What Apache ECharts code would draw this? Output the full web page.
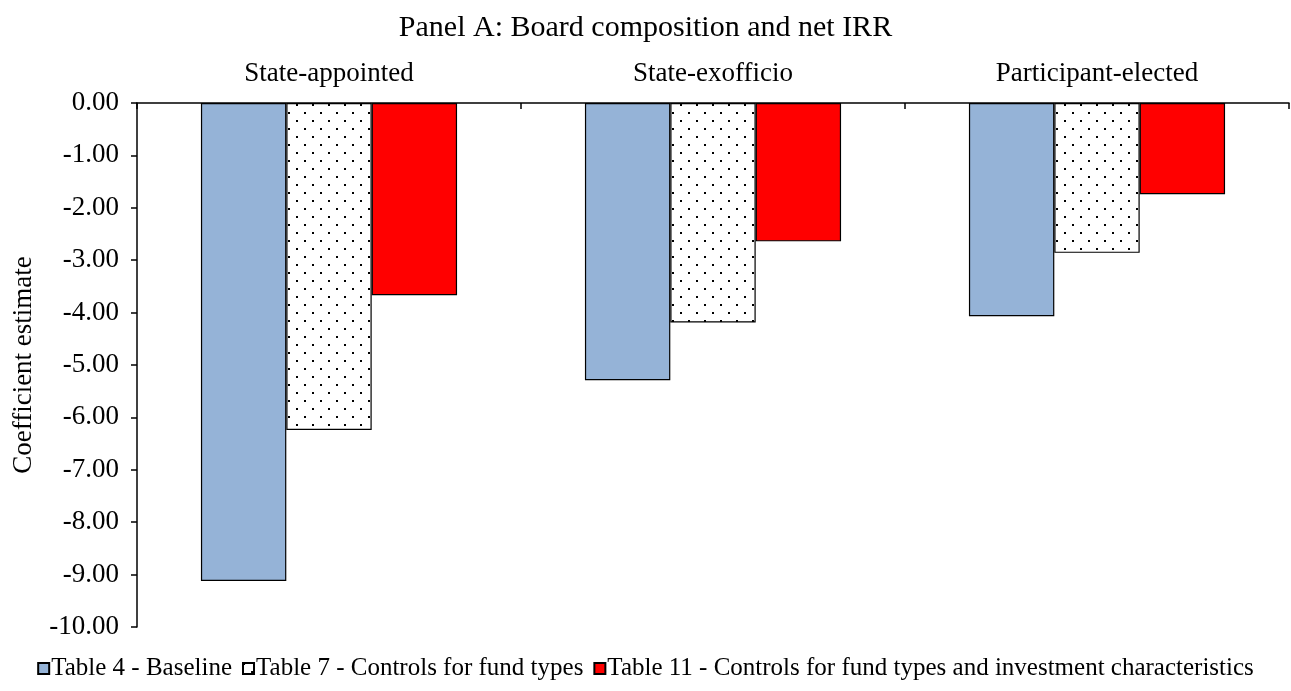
<!DOCTYPE html>
<html>
<head>
<meta charset="utf-8">
<script src="https://cdn.jsdelivr.net/npm/echarts@6/dist/echarts.min.js"></script>
<style>
html,body{margin:0;padding:0;background:#fff;}
#chart{width:1291px;height:691px;}
</style>
</head>
<body>
<div id="chart"></div>
<script>
const categories = ['State-appointed', 'State-exofficio', 'Participant-elected'];
const seriesNames = ['Table 4 - Baseline', 'Table 7 - Controls for fund types', 'Table 11 - Controls for fund types and investment characteristics'];
const baseline = [-9.12, -5.29, -4.07];
const fundTypes = [-6.24, -4.19, -2.86];
const fundInvest = [-3.67, -2.64, -1.74];
const yTicks = [0, -1, -2, -3, -4, -5, -6, -7, -8, -9, -10];

function dotPattern() {
  const c = document.createElement('canvas');
  c.width = 16; c.height = 16;
  const g = c.getContext('2d');
  g.fillStyle = '#fff';
  g.fillRect(0, 0, 16, 16);
  g.fillStyle = '#000';
  g.fillRect(0, 0, 2, 2);
  g.fillRect(8, 8, 2, 2);
  return c;
}

const font = '"Liberation Serif", "Times New Roman", serif';
const chart = echarts.init(document.getElementById('chart'), null, {renderer: 'canvas'});
const option = {
  animation: false,
  backgroundColor: '#fff',
  textStyle: {fontFamily: font, color: '#000'},
  title: {
    text: 'Panel A: Board composition and net IRR',
    left: 'center', top: 8,
    textStyle: {fontFamily: font, fontSize: 30, fontWeight: 'normal', color: '#000'}
  },
  legend: {
    bottom: 5, left: 'center',
    itemWidth: 11, itemHeight: 11, itemGap: 10,
    icon: 'rect',
    textStyle: {fontFamily: font, fontSize: 25, color: '#000', padding: [0, 0, 0, -3]},
    data: seriesNames
  },
  grid: {left: 137, right: 2, top: 103, bottom: 64},
  xAxis: {
    type: 'category', data: categories, position: 'top',
    axisLine: {show: true, onZero: true, lineStyle: {color: '#000', width: 1.5}},
    axisTick: {show: true, inside: true, length: 6, lineStyle: {color: '#000', width: 1.5}},
    axisLabel: {fontFamily: font, fontSize: 27, color: '#000', margin: 16}
  },
  yAxis: {
    type: 'value', min: -10, max: 0, interval: 1,
    name: 'Coefficient estimate', nameLocation: 'middle', nameGap: 100,
    nameTextStyle: {fontFamily: font, fontSize: 27, color: '#000'},
    axisLine: {show: true, lineStyle: {color: '#000', width: 1.5}},
    axisTick: {show: true, length: 6, lineStyle: {color: '#000', width: 1.5}},
    splitLine: {show: false},
    axisLabel: {fontFamily: font, fontSize: 27, color: '#000', margin: 18,
      formatter: v => v.toFixed(2)}
  },
  series: [
    {name: seriesNames[0], type: 'bar', data: baseline, barGap: '0%', barCategoryGap: '33.3%',
      itemStyle: {color: '#95B3D7', borderColor: '#000', borderWidth: 1.2}},
    {name: seriesNames[1], type: 'bar', data: fundTypes, barGap: '0%', barCategoryGap: '33.3%',
      itemStyle: {color: {image: dotPattern(), repeat: 'repeat'}, borderColor: '#000', borderWidth: 1.2}},
    {name: seriesNames[2], type: 'bar', data: fundInvest, barGap: '0%', barCategoryGap: '33.3%',
      itemStyle: {color: '#FF0000', borderColor: '#000', borderWidth: 1.2}}
  ]
};
chart.setOption(option);
</script>
</body>
</html>
